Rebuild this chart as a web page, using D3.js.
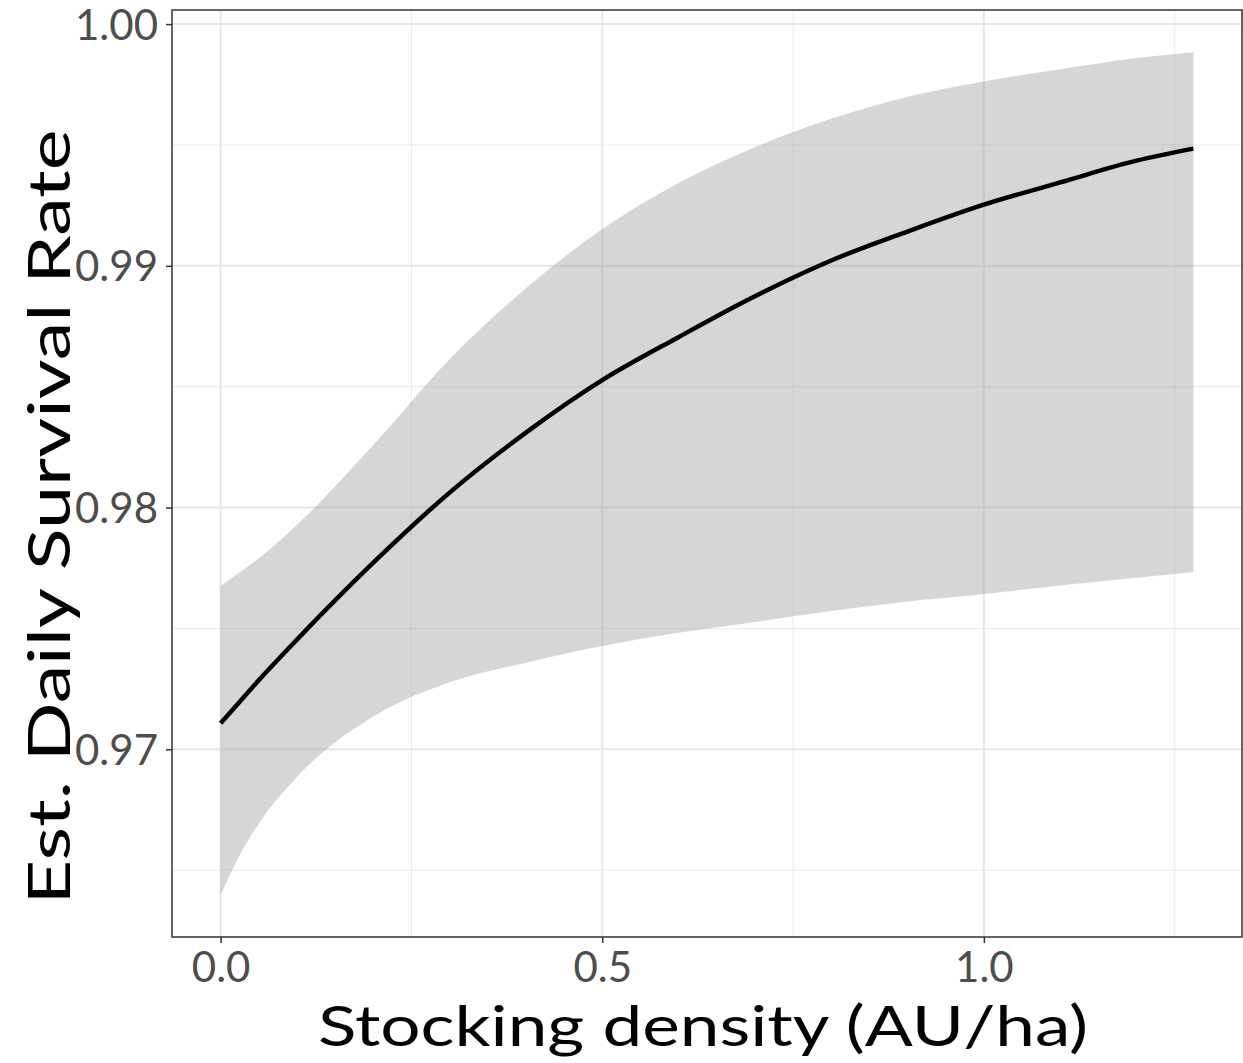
<!DOCTYPE html>
<html>
<head>
<meta charset="utf-8">
<script src="https://cdn.jsdelivr.net/npm/d3@7"></script>
<style>
  body { margin: 0; background: #fff; }
  svg text { font-family: "Lato", "Open Sans", sans-serif; }
</style>
</head>
<body>
<div id="chart"></div>
<script>

// stocking density values (AU/ha)
var density = [0, 0.025, 0.05, 0.1, 0.2, 0.3, 0.4, 0.5, 0.6, 0.7, 0.8, 0.9, 1.0, 1.1, 1.2, 1.2745];
// estimated daily survival rate
var fitValues = [0.97108, 0.97197, 0.97286, 0.97454, 0.97772, 0.98062, 0.98310, 0.98527, 0.98705, 0.98874, 0.99022, 0.99142, 0.99253, 0.99345, 0.99435, 0.99485];
// confidence band
var lowerValues = [0.96398, 0.96563, 0.96693, 0.96886, 0.97136, 0.97278, 0.97358, 0.97427, 0.97482, 0.97527, 0.97572, 0.97612, 0.97643, 0.97678, 0.97710, 0.97734];
var upperValues = [0.97676, 0.97733, 0.97790, 0.97929, 0.98259, 0.98614, 0.98907, 0.99152, 0.99343, 0.99491, 0.99608, 0.99699, 0.99763, 0.99813, 0.99860, 0.99884];

var xTicks = [0, 0.5, 1.0];
var xMinor = [0.25, 0.75, 1.25];
var yTicks = [0.97, 0.98, 0.99, 1.00];
var yMinor = [0.965, 0.975, 0.985, 0.995];

var width = 1243, height = 1063;
var panel = {left: 172, right: 1242, top: 10, bottom: 937};

var data = density.map(function(d, i) {
	return {x: d, fit: fitValues[i], lo: lowerValues[i], hi: upperValues[i]};
});

// ggplot style 5% expansion
var xMin = d3.min(density), xMax = d3.max(density);
var xPad = (xMax - xMin) * 0.05;
var yMin = d3.min(lowerValues), yMax = d3.max(upperValues);
var yPad = (yMax - yMin) * 0.05;

var x = d3.scaleLinear()
	.domain([xMin - xPad, xMax + xPad])
	.range([panel.left, panel.right]);

var y = d3.scaleLinear()
	.domain([yMin - yPad, yMax + yPad])
	.range([panel.bottom, panel.top]);

var svg = d3.select("#chart").append("svg")
	.attr("width", width)
	.attr("height", height);

// minor grid
svg.selectAll(".xminor")
	.data(xMinor)
	.enter().append("line")
	.attr("x1", function(d) { return x(d); })
	.attr("x2", function(d) { return x(d); })
	.attr("y1", panel.top).attr("y2", panel.bottom)
	.style("stroke", "#ebebeb").style("stroke-width", 1);

svg.selectAll(".yminor")
	.data(yMinor)
	.enter().append("line")
	.attr("y1", function(d) { return y(d); })
	.attr("y2", function(d) { return y(d); })
	.attr("x1", panel.left).attr("x2", panel.right)
	.style("stroke", "#ebebeb").style("stroke-width", 1);

// major grid
svg.selectAll(".xmajor")
	.data(xTicks)
	.enter().append("line")
	.attr("x1", function(d) { return x(d); })
	.attr("x2", function(d) { return x(d); })
	.attr("y1", panel.top).attr("y2", panel.bottom)
	.style("stroke", "#e6e6e6").style("stroke-width", 2);

svg.selectAll(".ymajor")
	.data(yTicks)
	.enter().append("line")
	.attr("y1", function(d) { return y(d); })
	.attr("y2", function(d) { return y(d); })
	.attr("x1", panel.left).attr("x2", panel.right)
	.style("stroke", "#e6e6e6").style("stroke-width", 2);

// ribbon
var area = d3.area()
	.x(function(d) { return x(d.x); })
	.y0(function(d) { return y(d.lo); })
	.y1(function(d) { return y(d.hi); })
	.curve(d3.curveMonotoneX);

svg.append("path")
	.datum(data)
	.attr("d", area)
	.style("fill", "#999999")
	.style("fill-opacity", 0.4);

// fitted line
var line = d3.line()
	.x(function(d) { return x(d.x); })
	.y(function(d) { return y(d.fit); })
	.curve(d3.curveMonotoneX);

svg.append("path")
	.datum(data)
	.attr("d", line)
	.style("fill", "none")
	.style("stroke", "#000")
	.style("stroke-width", 4.5);

// panel border
svg.append("rect")
	.attr("x", panel.left).attr("y", panel.top)
	.attr("width", panel.right - panel.left)
	.attr("height", panel.bottom - panel.top)
	.style("fill", "none")
	.style("stroke", "#333")
	.style("stroke-width", 1.5);

// axes
var xAxis = svg.append("g")
	.attr("transform", "translate(0," + panel.bottom + ")")
	.call(d3.axisBottom(x).tickValues(xTicks).tickFormat(d3.format(".1f")).tickSize(6).tickPadding(8));

var yAxis = svg.append("g")
	.attr("transform", "translate(" + panel.left + ",0)")
	.call(d3.axisLeft(y).tickValues(yTicks).tickFormat(d3.format(".2f")).tickSize(6).tickPadding(8));

[xAxis, yAxis].forEach(function(g) {
	g.select(".domain").remove();
	g.selectAll(".tick line").style("stroke", "#333").style("stroke-width", 1.5);
	g.selectAll(".tick text")
		.style("fill", "#4d4d4d")
		.style("font-size", "42px");
});
yAxis.selectAll(".tick text").attr("dy", "0.36em");
xAxis.selectAll(".tick text").attr("dy", "0.74em");

// axis titles
svg.append("text")
	.attr("x", 703)
	.attr("y", 1046)
	.attr("text-anchor", "middle")
	.attr("textLength", 770)
	.attr("lengthAdjust", "spacingAndGlyphs")
	.style("font-size", "56px")
	.style("fill", "#000")
	.text("Stocking density (AU/ha)");

svg.append("text")
	.attr("transform", "translate(70,517) rotate(-90)")
	.attr("text-anchor", "middle")
	.attr("textLength", 775)
	.attr("lengthAdjust", "spacingAndGlyphs")
	.style("font-size", "58px")
	.style("fill", "#000")
	.text("Est. Daily Survival Rate");

</script>
</body>
</html>
